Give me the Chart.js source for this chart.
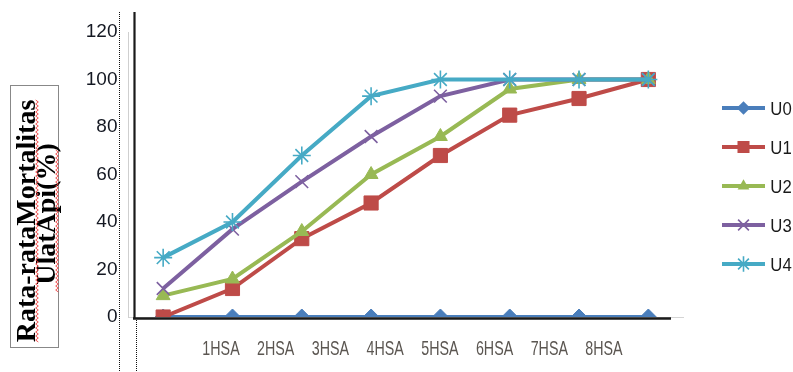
<!DOCTYPE html>
<html><head><meta charset="utf-8">
<script src="https://cdn.jsdelivr.net/npm/chart.js@4.4.1/dist/chart.umd.min.js"></script>
<style>html,body{margin:0;padding:0;background:#fff;} #wrap{width:793px;height:372px;position:relative;}</style>
</head><body><div id="wrap"><canvas id="c"></canvas></div>
<script>
// ---- data ----
const hsaLabels = ['1HSA','2HSA','3HSA','4HSA','5HSA','6HSA','7HSA','8HSA'];
const seriesNames = ['U0','U1','U2','U3','U4'];
const u0 = [0,0,0,0,0,0,0,0];
const u1 = [0,12,33,48,68,85,92,100];
const u2 = [9,16,36,60,76,96,100,100];
const u3 = [12,37,57,76,93,100,100,100];
const u4 = [25,40,68,93,100,100,100,100];
const yTicks = [0,20,40,60,80,100,120];
const yTitleLines = ['Rata-rataMortalitas','UlatApi(%)'];

// ---- styles ----
const colors = ['#4a7ebb','#be4b48','#98b954','#7d60a0','#46aac5'];
const pStyles = ['rectRot','rect','triangle','crossRot','star'];
const pRadius = [8,10,8,9,9];
const sans = "'Liberation Sans',Arial,sans-serif";

const allData = [u0,u1,u2,u3,u4];
const datasets = allData.map((d,i)=>({
  label: seriesNames[i], data: d,
  borderColor: colors[i], backgroundColor: colors[i],
  borderWidth: 4, pointStyle: pStyles[i], pointRadius: pRadius[i],
  pointBorderWidth: (i>=3)?1.6:1, pointBorderColor: colors[i], pointBackgroundColor: colors[i],
  tension: 0, order: 4-i
}));

function marker(ctx, style, r, x, y, color){
  ctx.save(); ctx.fillStyle=color; ctx.strokeStyle=color; ctx.lineWidth=1.6;
  ctx.beginPath();
  if(style==='rectRot'){ctx.moveTo(x-r,y);ctx.lineTo(x,y-r);ctx.lineTo(x+r,y);ctx.lineTo(x,y+r);ctx.closePath();ctx.fill();}
  else if(style==='rect'){const s=Math.SQRT1_2*r;ctx.rect(x-s,y-s,2*s,2*s);ctx.fill();}
  else if(style==='triangle'){const a=-Math.PI/2;ctx.moveTo(x+Math.cos(a)*r,y+Math.sin(a)*r);
    ctx.lineTo(x+Math.cos(a+2*Math.PI/3)*r,y+Math.sin(a+2*Math.PI/3)*r);
    ctx.lineTo(x+Math.cos(a+4*Math.PI/3)*r,y+Math.sin(a+4*Math.PI/3)*r);ctx.closePath();ctx.fill();}
  else { const s=Math.SQRT1_2*r;
    ctx.moveTo(x-s,y-s);ctx.lineTo(x+s,y+s);ctx.moveTo(x-s,y+s);ctx.lineTo(x+s,y-s);
    if(style==='star'){ctx.moveTo(x,y-r);ctx.lineTo(x,y+r);ctx.moveTo(x-r,y);ctx.lineTo(x+r,y);}
    ctx.stroke();}
  ctx.restore();
}
function squiggle(ctx,x,y1,y2){
  ctx.save();ctx.strokeStyle='#f04040';ctx.lineWidth=0.9;ctx.beginPath();
  let k=0;for(let y=y1;y<=y2;y+=2){ctx.lineTo(x+(k%2?1.3:-1.3),y);k++;}
  ctx.stroke();ctx.restore();
}
// text drawn horizontally condensed (the reference uses a narrow font)
function narrowText(ctx,txt,cx,baseY,size,sx,color){
  ctx.save(); ctx.font=size+'px '+sans; ctx.fillStyle=color;
  ctx.textAlign='center'; ctx.textBaseline='alphabetic';
  ctx.translate(cx,baseY); ctx.scale(sx,1); ctx.fillText(txt,0,0); ctx.restore();
}

const decor = {
  id:'decor',
  beforeDatasetsDraw(chart){
    const ctx=chart.ctx; ctx.save();
    ctx.strokeStyle='#111'; ctx.lineWidth=1; ctx.setLineDash([1,1]);
    ctx.beginPath(); ctx.moveTo(119.5,12); ctx.lineTo(119.5,372); ctx.stroke();
    ctx.beginPath(); ctx.moveTo(136.5,318); ctx.lineTo(136.5,372); ctx.stroke();
    ctx.strokeRect(10.5,85.5,48,262);
    ctx.setLineDash([]);
    ctx.strokeStyle='#1a1a1a'; ctx.lineWidth=2.2;
    ctx.beginPath(); ctx.moveTo(134.5,12); ctx.lineTo(134.5,319); ctx.stroke();
    ctx.lineWidth=2.5;
    ctx.beginPath(); ctx.moveTo(133,318.5); ctx.lineTo(671,318.5); ctx.stroke();
    ctx.fillStyle='#000'; ctx.font="bold 28px 'Liberation Serif','Times New Roman',serif";
    ctx.textAlign='center'; ctx.textBaseline='alphabetic';
    ctx.save(); ctx.translate(0,221); ctx.rotate(-Math.PI/2); ctx.fillText(yTitleLines[0],0,35); ctx.restore();
    ctx.save(); ctx.translate(0,214); ctx.rotate(-Math.PI/2); ctx.fillText(yTitleLines[1],0,55); ctx.restore();
    squiggle(ctx,37,100,342);
    squiggle(ctx,57,150,292);
    ctx.restore();
  },
  afterDraw(chart){
    const ctx=chart.ctx;
    // category labels placed on the secondary x scale
    const x2=chart.scales.x2;
    hsaLabels.forEach((t,i)=>narrowText(ctx,t,x2.getPixelForValue(i+1),355,21,0.68,'#5b5651'));
    // legend
    chart.data.datasets.forEach((ds,i)=>{
      const y=108+i*39;
      ctx.save(); ctx.strokeStyle=ds.borderColor; ctx.lineWidth=4;
      ctx.beginPath(); ctx.moveTo(722,y); ctx.lineTo(765,y); ctx.stroke(); ctx.restore();
      marker(ctx,ds.pointStyle,ds.pointRadius*0.85,743.5,y,ds.borderColor);
      narrowText(ctx,ds.label,781,y+7,19,0.88,'#1a1a1a');
    });
  }
};

new Chart(document.getElementById('c'),{
  type:'line',
  data:{labels:hsaLabels, datasets},
  options:{
    responsive:true, maintainAspectRatio:false, devicePixelRatio:1, animation:false,
    layout:{padding:{left:0,right:110,top:32,bottom:0}},
    plugins:{legend:{display:false},tooltip:{enabled:false}},
    scales:{
      x:{type:'category',offset:true,position:'bottom',
         grid:{display:false,drawTicks:false},
         border:{display:true,color:'#d4d4d4',width:1},
         ticks:{display:false},
         afterFit(s){s.height=0;}},
      x2:{type:'linear',position:'bottom',min:-0.691,max:9.444,
         grid:{display:false,drawTicks:false},border:{display:false},
         afterBuildTicks(s){s.ticks=hsaLabels.map((_,i)=>({value:i+1}));},
         ticks:{display:false},
         afterFit(s){s.height=55;}},
      y:{min:0,max:120,
         grid:{display:false,drawTicks:false},
         border:{display:true,color:'#cfcfcf',width:1},
         afterBuildTicks(s){s.ticks=yTicks.map(v=>({value:v}));},
         ticks:{padding:11,color:'#141822',font:{family:sans,size:19}},
         afterFit(s){s.width=128.5;}}
    }
  },
  plugins:[decor]
});
</script></body></html>
